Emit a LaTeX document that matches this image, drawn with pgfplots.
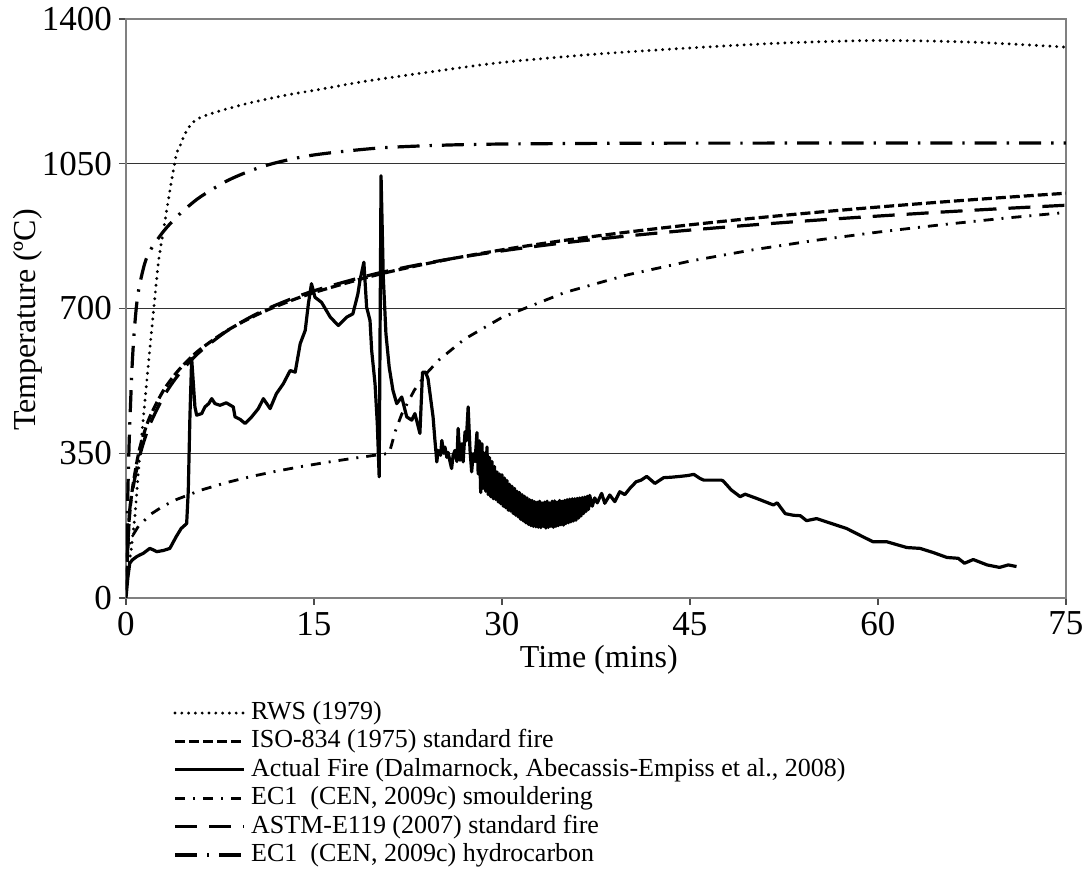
\documentclass[border=0pt]{standalone}
\usepackage{fontspec}
\setmainfont{Liberation Serif}
\usepackage{pgfplots}
\pgfplotsset{compat=1.18}
\begin{document}
\begin{tikzpicture}
\path[use as bounding box] (-63pt,-137pt) rectangle (478.5pt,299pt);
\begin{axis}[
  scale only axis, width=470pt, height=289.5pt,
  xmin=0, xmax=75, ymin=0, ymax=1400,
  xtick={0,15,30,45,60,75}, ytick={0,350,700,1050,1400},
  ymajorgrids, grid style={black!80, line width=0.5pt},
  axis line style={black!50, line width=0.9pt},
  tick align=outside, major tick length=3.5pt,
  tick style={black!70, line width=0.6pt},
  xtick pos=left, ytick pos=left,
  /pgf/number format/assume math mode=true,
  /pgf/number format/1000 sep={},
  tick label style={font=\fontsize{17.5}{20}\selectfont},
  xlabel={Time (mins)}, ylabel={Temperature (ºC)},
  label style={font=\fontsize{16}{19}\selectfont},
  ylabel style={at={(axis description cs:-0.104,0.48)}, anchor=center},
  xlabel style={at={(axis description cs:0.503,-0.107)}, anchor=center},
  legend style={at={(0.05,-0.1735)}, anchor=north west, draw=none, fill=none,
    font=\fontsize{13}{15}\selectfont, row sep=0pt, inner sep=0pt,
    nodes={inner sep=1.3pt, text height=9pt, text depth=2.6pt}},
  legend cell align=left,
  legend image code/.code={\draw[#1] (0pt,0pt) -- (34.5pt,0pt); \path (36pt,0pt);},
]
% RWS (1979)
\addplot[black, line width=1.6pt, line cap=round, dash pattern=on 0pt off 3.4pt, smooth] coordinates {
(0,20)(0.3,90)(0.7,195)(1,310)(1.4,440)(1.8,570)(2.2,695)(2.6,815)(3,890)(3.5,985)(4,1070)(4.3,1092)(4.7,1122)(5.2,1146)(5.7,1158)(6.2,1165)(7.5,1178)(10,1198)(12.8,1216)(15.5,1230)(19.2,1250)(25,1275)(30,1295)(37.5,1315)(45,1330)(52.5,1342)(60,1348)(67.5,1344)(75,1332)};
\addlegendentry{RWS (1979)}
% ISO-834
\addplot[black, line width=1.6pt, dash pattern=on 5pt off 2pt, smooth] coordinates {
(0,20)(0.25,184.6)(0.5,261.2)(1,349.2)(1.5,404.3)(2,444.5)(3,502.3)(4,543.9)(5,576.4)(6,603.1)(8,645.4)(10,678.4)(12,705.4)(15,738.6)(20,781.3)(25,814.6)(30,841.8)(35,864.8)(40,884.7)(45,902.3)(50,918.1)(55,932.3)(60,945.3)(65,957.3)(70,968.4)(75,978.7)};
\addlegendentry{ISO-834 (1975) standard fire}
% Actual fire
\addplot[black, line width=1.6pt, line join=round] coordinates {
(0,0)(0.15,50)(0.3,84)(0.5,92)(0.85,100)(1.1,104)(1.38,108)(1.9,120)(2.2,116)(2.45,112)(3.0,115)(3.5,120)(4.0,148)(4.4,168)(4.84,180)(4.97,260)(5.1,438)(5.24,579)(5.5,462)(5.64,442)(6.04,446)(6.3,462)(6.6,470)(6.84,482)(7.1,470)(7.5,466)(8.0,472)(8.56,462)(8.7,438)(9.1,432)(9.5,422)(10.03,438)(10.56,458)(10.96,482)(11.5,458)(12.0,494)(12.55,518)(13.1,550)(13.5,546)(13.9,615)(14.3,647)(14.55,711)(14.8,760)(15.08,727)(15.6,715)(16.3,679)(16.94,659)(17.6,679)(18.1,687)(18.5,735)(18.67,768)(18.98,812)(19.2,703)(19.47,671)(19.6,599)(19.87,518)(20.05,422)(20.2,293)(20.35,1021)(20.53,775)(20.74,639)(21.0,558)(21.3,502)(21.6,470)(22.0,486)(22.4,438)(22.8,430)(23.05,446)(23.45,398)(23.66,546)(23.9,546)(24.1,530)(24.5,438)(24.65,381)(24.8,329)(24.9,357)(25.1,345)(25.2,381)(25.35,350)(25.45,365)(25.6,340)(25.7,352)(25.85,330)(25.98,313)(26.1,345)(26.25,357)(26.4,330)(26.5,410)(26.65,333)(26.8,373)(26.9,329)(27.05,402)(27.15,380)(27.3,462)(27.45,357)(27.58,305)(27.7,349)(27.85,330)(28.0,400)(28.1,300)(28.2,380)(28.3,255)(28.4,373)(28.5,265)(28.6,350)(28.7,258)(28.8,365)(28.9,250)(29.0,340)(29.1,245)(29.2,330)(29.3,240)(29.4,318)(29.5,238)(29.6,305)(29.7,232)(29.8,300)(29.9,228)(30.0,298)(30.1,222)(30.2,290)(30.3,218)(30.4,284)(30.5,212)(30.6,275)(30.7,210)(30.8,270)(30.9,204)(31.0,265)(31.1,200)(31.2,258)(31.3,196)(31.4,255)(31.5,190)(31.6,250)(31.7,186)(31.8,246)(31.9,182)(32.0,242)(32.1,178)(32.2,238)(32.3,175)(32.4,236)(32.5,173)(32.6,233)(32.7,172)(32.8,232)(32.9,171)(33.0,234)(33.1,170)(33.2,230)(33.3,173)(33.4,232)(33.5,169)(33.6,234)(33.7,171)(33.8,230)(33.9,173)(34.0,234)(34.1,171)(34.2,235)(34.3,173)(34.4,232)(34.5,175)(34.6,236)(34.7,177)(34.8,234)(34.9,176)(35.0,236)(35.1,180)(35.2,238)(35.3,182)(35.4,239)(35.5,184)(35.6,240)(35.7,186)(35.8,240)(35.9,188)(36.0,241)(36.1,193)(36.2,242)(36.3,198)(36.4,243)(36.5,204)(36.6,244)(36.7,209)(36.8,246)(36.9,214)(37.0,248)(37.2,222)(37.4,242)(37.6,230)(37.95,253)(38.2,229)(38.6,249)(39.0,233)(39.4,257)(39.8,250)(40.2,265)(40.7,281)(41.1,285)(41.55,294)(42.2,277)(42.9,291)(43.5,292)(44.2,294)(44.8,296)(45.3,299)(45.8,289)(46.1,285)(47.5,285)(47.65,283)(48.3,261)(49.0,245)(49.4,251)(50.3,241)(51.65,225)(51.96,230)(52.6,204)(53.25,200)(53.8,199)(54.3,187)(55.1,192)(56.4,179)(57.5,168)(58.8,148)(59.6,136)(60.7,136)(62.3,122)(63.35,120)(64.4,110)(65.5,98)(66.4,96)(66.9,84)(67.6,93)(68.7,80)(69.7,74)(70.4,80)(71.05,76)};
\addlegendentry{Actual Fire (Dalmarnock, Abecassis-Empiss et al., 2008)}
% EC1 smouldering
\addplot[black, line width=1.4pt, dash pattern=on 5pt off 4pt on 1pt off 4pt] coordinates {
(0,20)(0.1,106.6)(0.25,128.9)(0.5,149.5)(1,174)(2,203.1)(3,222.7)(4,237.8)(6,261.0)(8,279.0)(10,293.9)(12,306.6)(14,317.9)(16,328)(18,337.2)(20,345.7)(21,349.7)(21.5,404.3)(22,444.5)(23,502.3)(24,543.9)(25,576.4)(27,625.8)(30,678.4)(35,738.6)(40,781.3)(45,814.6)(50,841.8)(55,864.8)(60,884.7)(65,902.3)(70,918.1)(75,932.3)};
\addlegendentry{EC1\ \ (CEN, 2009c) smouldering}
% ASTM-E119
\addplot[black, line width=1.6pt, dash pattern=on 11pt off 6pt, smooth] coordinates {
(0,20)(0.25,194)(0.5,255.3)(1,332.6)(1.5,385.3)(2,426.1)(3,487.1)(4,532.5)(5,568.5)(6,598.1)(8,644.6)(10,680.3)(12,708.8)(15,742.8)(20,784.6)(25,815.3)(30,839.3)(35,858.9)(40,875.3)(45,889.6)(50,902.1)(55,913.4)(60,923.5)(65,933)(70,941.7)(75,949.7)};
\addlegendentry{ASTM-E119 (2007) standard fire}
% EC1 hydrocarbon
\addplot[black, line width=1.6pt, dash pattern=on 11pt off 5pt on 1.2pt off 5pt, smooth] coordinates {
(0,20)(0.1,187.1)(0.25,373.2)(0.5,568.2)(0.75,678.6)(1,743.2)(1.5,809.6)(2,843.8)(3,886.8)(4,920.1)(5,947.7)(6,971.2)(8,1007.7)(10,1033.9)(12,1052.7)(15,1071.3)(20,1087.6)(25,1094.6)(30,1097.7)(40,1099.6)(50,1099.9)(60,1100)(75,1100)};
\addlegendentry{EC1\ \ (CEN, 2009c) hydrocarbon}
\end{axis}
\end{tikzpicture}
\end{document}
